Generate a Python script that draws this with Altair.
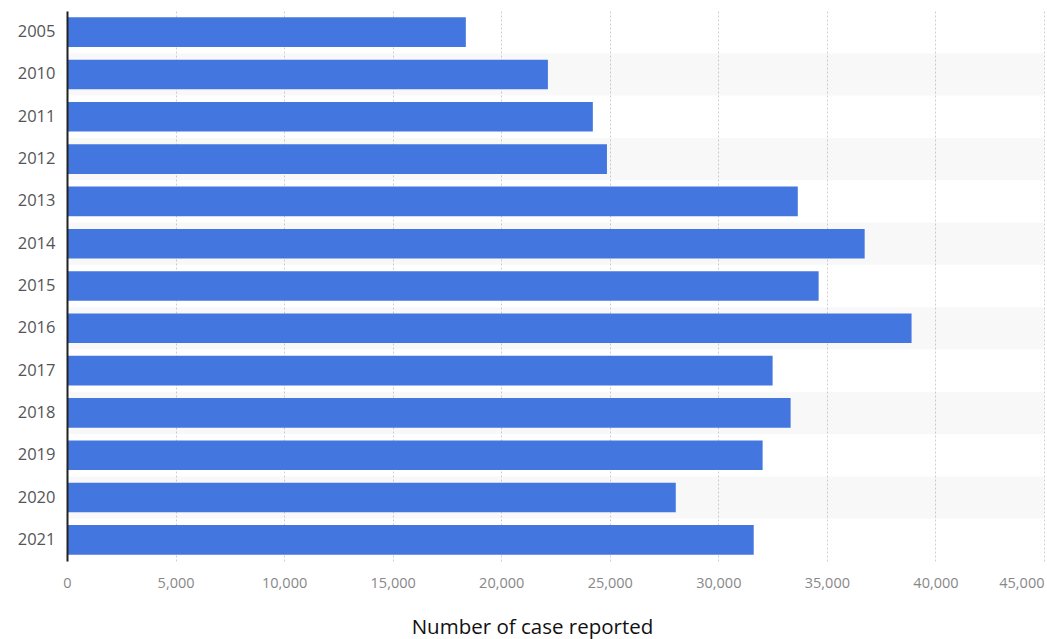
import altair as alt
import pandas as pd

years = ["2005", "2010", "2011", "2012", "2013", "2014", "2015", "2016",
         "2017", "2018", "2019", "2020", "2021"]
cases = [18370, 22150, 24220, 24870, 33660, 36740, 34620, 38900,
         32500, 33330, 32040, 28040, 31630]
x_ticks = [0, 5000, 10000, 15000, 20000, 25000, 30000, 35000, 40000, 45000]
shaded_years = years[1::2]

df = pd.DataFrame({"year": years, "cases": cases})
bands = pd.DataFrame({"year": shaded_years, "x0": [0] * len(shaded_years),
                      "x1": [x_ticks[-1]] * len(shaded_years)})

FONT = "Open Sans"

y_enc = alt.Y("year:N", sort=years,
              scale=alt.Scale(paddingInner=0, paddingOuter=0),
              axis=alt.Axis(title=None, ticks=False, domain=True,
                            domainColor="#222", domainWidth=2,
                            labelColor="#555", labelFontSize=16.5,
                            labelFont=FONT, labelPadding=12, grid=False))

x_scale = alt.Scale(domain=[0, 45000], nice=False)

band_layer = alt.Chart(bands).mark_rect(color="#000", opacity=0.028).encode(
    y=y_enc,
    x=alt.X("x0:Q", scale=x_scale),
    x2="x1:Q",
)

bar_layer = alt.Chart(df).mark_bar(color="#4376df", height={"band": 0.7}).encode(
    y=y_enc,
    x=alt.X("cases:Q", scale=x_scale,
            axis=alt.Axis(title="Number of case reported", values=x_ticks,
                          format=",d", domain=False, ticks=False,
                          labelColor="#888", labelFontSize=14.5, labelFont=FONT,
                          labelPadding=15,
                          labelAlign=alt.expr("datum.value == 45000 ? 'right' : 'center'"),
                          grid=True, gridColor="#cfcfcf", gridDash=[2, 2],
                          gridWidth=1,
                          titleFont=FONT, titleFontSize=20.5,
                          titleFontWeight="normal", titleColor="#111",
                          titleX=465, titleAnchor="middle",
                          titlePadding=28)),
)

chart = alt.layer(band_layer, bar_layer).properties(
    width=977, height=550,
    autosize=alt.AutoSizeParams(type="none"),
    padding={"left": 67, "top": 11, "right": 3, "bottom": 78},
).configure_view(stroke=None)

chart.save("out.html", embed_options={"renderer": "svg", "actions": False})
